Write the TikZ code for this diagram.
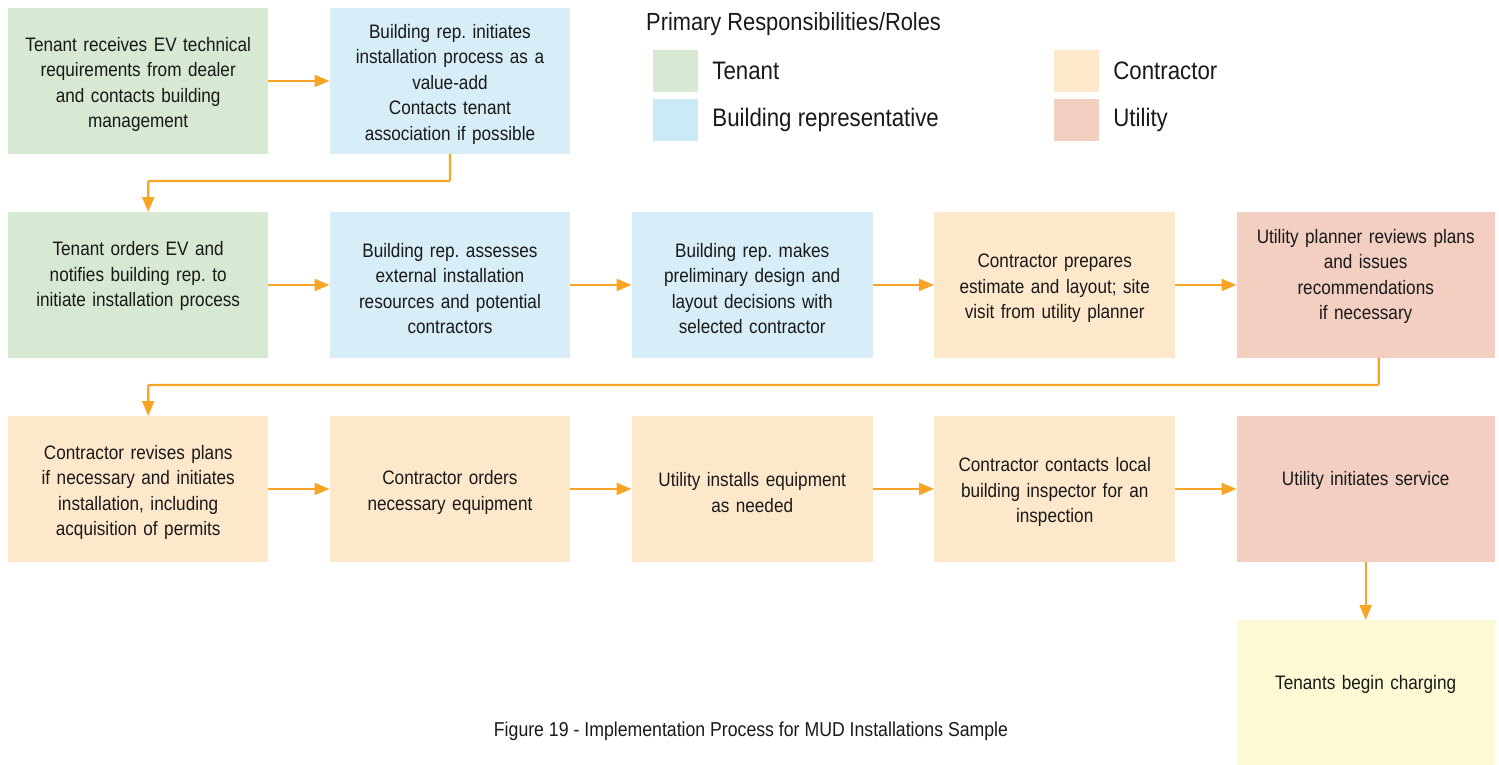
\documentclass[tikz,border=0pt]{standalone}
\usepackage{fontspec}
\setmainfont[FakeStretch=0.88]{Liberation Sans}
\usepackage{tikz}
\usetikzlibrary{matrix,positioning}
\usetikzlibrary{arrows.meta}
\frenchspacing
\definecolor{tenantgreen}{HTML}{D7E8D3}
\definecolor{bldgblue}{HTML}{D7EEF9}
\definecolor{keyblue}{HTML}{CBE9F9}
\definecolor{contrbeige}{HTML}{FEE8CC}
\definecolor{utilred}{HTML}{F2CFC1}
\definecolor{chargeyellow}{HTML}{FEF9D5}
\definecolor{flowline}{HTML}{F8A425}

\begin{document}
\begin{tikzpicture}[x=1pt,y=1pt,
	box/.style={anchor=center, inner xsep=4pt, inner ysep=0pt, minimum height=145.5pt, align=center, text=black!90,
		font=\fontsize{19.5}{25.5}\selectfont, execute at begin node={\rule{0pt}{21pt}}},
	tenant/.style={box, fill=tenantgreen},
	bldg/.style={box, fill=bldgblue},
	contr/.style={box, fill=contrbeige},
	util/.style={box, fill=utilred},
	charge/.style={box, fill=chargeyellow},
	flow/.style={draw=flowline, fill=flowline, line width=2.2pt, -{Triangle[length=15pt,width=12pt]}},
	swatch/.style={minimum width=45pt, minimum height=42pt, inner sep=0pt},
	role/.style={right=14pt of #1, inner sep=0pt, text=black!90, font=\fontsize{25.3}{30}\selectfont}]
	\useasboundingbox (0,0) rectangle (1499,-765);
	\matrix (m) [matrix of nodes, anchor=north west, inner sep=0pt, column sep=61.5pt, row sep=58.5pt,
		nodes={anchor=center},
		column 1/.style={nodes={text width=252pt}},
		column 2/.style={nodes={text width=232.5pt}},
		column 3/.style={nodes={text width=233pt}},
		column 4/.style={nodes={text width=233pt}},
		column 5/.style={nodes={text width=250pt}}] at (8,-8)
	{
		|[tenant]| {Tenant receives EV technical\\requirements from dealer\\and contacts building\\management}
		& |[bldg]| {Building rep. initiates\\installation process as a\\value-add\\Contacts tenant\\association if possible}
		& & & \\
		|[tenant]| {Tenant orders EV and\\notifies building rep. to\\initiate installation process\\[-5pt]\strut}
		& |[bldg]| {Building rep. assesses\\external installation\\resources and potential\\contractors}
		& |[bldg]| {Building rep. makes\\preliminary design and\\layout decisions with\\selected contractor}
		& |[contr]| {Contractor prepares\\estimate and layout; site\\visit from utility planner}
		& |[util]| {Utility planner reviews plans\\and issues\\recommendations\\if necessary\\[-5pt]\strut} \\
		|[contr]| {Contractor revises plans\\if necessary and initiates\\installation, including\\acquisition of permits}
		& |[contr]| {Contractor orders\\necessary equipment}
		& |[contr]| {Utility installs equipment\\as needed}
		& |[contr]| {Contractor contacts local\\building inspector for an\\inspection}
		& |[util]| {Utility initiates service\\[-5pt]\strut} \\
		& & & & |[charge]| {Tenants begin charging\\[-5pt]\strut} \\
	};
	\path[every edge/.style={flow}]
	(m-1-1) edge (m-1-2)
	(m-2-1) edge (m-2-2)
	(m-2-2) edge (m-2-3)
	(m-2-3) edge (m-2-4)
	(m-2-4) edge (m-2-5)
	(m-3-1) edge (m-3-2)
	(m-3-2) edge (m-3-3)
	(m-3-3) edge (m-3-4)
	(m-3-4) edge (m-3-5)
	(m-3-5) edge (m-4-5)
	;
	\draw[flow, fill=none, rounded corners=1pt] (m-1-2.south) -- ++(0,-27) -| ([xshift=10pt]m-2-1.north);
	\draw[flow, fill=none, rounded corners=1pt] ([xshift=13pt]m-2-5.south) -- ++(0,-27) -| ([xshift=10pt]m-3-1.north);
	\node (title) [anchor=west, inner sep=0pt, text=black!90, font=\fontsize{24.8}{28}\selectfont] at (646,-24) {Primary Responsibilities/Roles};
	\node (kt) [swatch, fill=tenantgreen] at (675.5,-71) {};
	\node (kb) [swatch, fill=keyblue] at (675.5,-120) {};
	\node (kc) [swatch, fill=contrbeige] at (1076.5,-71) {};
	\node (ku) [swatch, fill=utilred] at (1076.5,-120) {};
	\node (kt-l) [role=kt] {Tenant};
	\node (kb-l) [role=kb] {Building representative};
	\node (kc-l) [role=kc] {Contractor};
	\node (ku-l) [role=ku] {Utility};
	\node (caption) [text=black!90, font=\fontsize{20.1}{24}\selectfont] at (751,-731) {Figure 19 - Implementation Process for MUD Installations Sample};
\end{tikzpicture}
\end{document}
